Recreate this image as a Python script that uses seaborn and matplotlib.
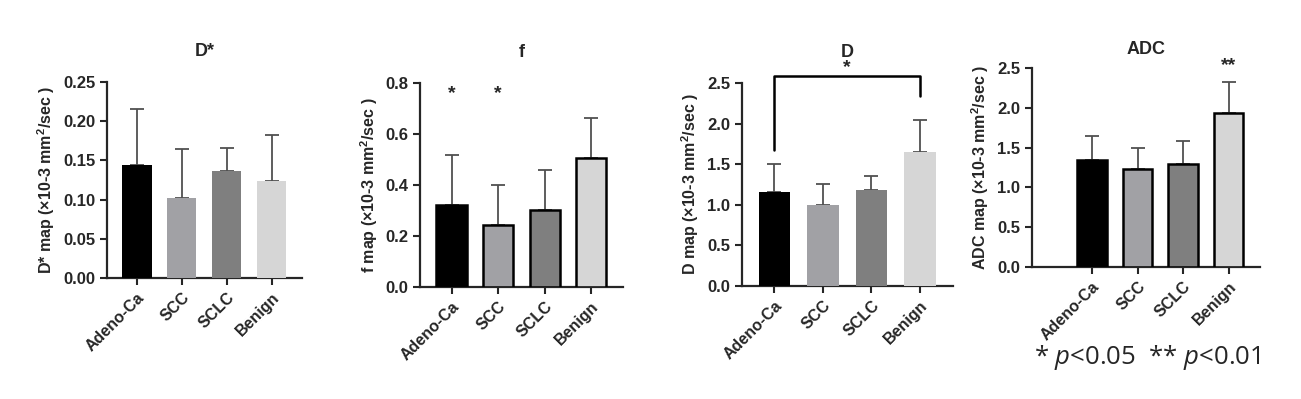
import numpy as np
import pandas as pd
import matplotlib.pyplot as plt
import seaborn as sns

# Group names and bar colours
groups = ["Adeno-Ca", "SCC", "SCLC", "Benign"]
bar_colors = ["#000000", "#a1a1a5", "#7f7f7f", "#d6d6d6"]

# Means and SD for each parameter
dstar_mean = [0.144, 0.102, 0.136, 0.124]
dstar_sd = [0.072, 0.062, 0.030, 0.058]
f_mean = [0.320, 0.242, 0.303, 0.505]
f_sd = [0.197, 0.158, 0.157, 0.160]
d_mean = [1.16, 1.00, 1.18, 1.65]
d_sd = [0.34, 0.26, 0.18, 0.40]
adc_mean = [1.34, 1.23, 1.30, 1.93]
adc_sd = [0.31, 0.27, 0.28, 0.39]

sns.set_style("ticks")
plt.rcParams["font.family"] = ["Liberation Sans", "DejaVu Sans"]
plt.rcParams["font.weight"] = "bold"
plt.rcParams["mathtext.fontset"] = "custom"
plt.rcParams["mathtext.rm"] = "Open Sans:normal"
plt.rcParams["mathtext.it"] = "Open Sans:italic:normal"
plt.rcParams["mathtext.bf"] = "Liberation Sans:bold"

fig = plt.figure(figsize=(13.01, 3.99), dpi=100)

# name, means, sds, ylim top, yticks, tick format, bar edges, axes rect, xlim left, title pad
panels = [
    ("D*", dstar_mean, dstar_sd, 0.25, np.arange(0, 0.26, 0.05), "{:.2f}", False,
     [0.0822, 0.3033, 0.150, 0.491], -0.67, 19),
    ("f", f_mean, f_sd, 0.8, np.arange(0, 0.81, 0.2), "{:.1f}", True,
     [0.3228, 0.2807, 0.156, 0.511], -0.68, 19),
    ("D", d_mean, d_sd, 2.5, np.arange(0, 2.51, 0.5), "{:.1f}", False,
     [0.5703, 0.2830, 0.162, 0.509], -0.67, 19),
    ("ADC", adc_mean, adc_sd, 2.5, np.arange(0, 2.51, 0.5), "{:.1f}", True,
     [0.7932, 0.3308, 0.175, 0.4988], -1.32, 10),
]

axes = []
for name, means, sds, ytop, yticks, fmt, edged, rect, xleft, pad in panels:
    ax = fig.add_axes(rect)
    df = pd.DataFrame({"group": groups, "value": means})
    sns.barplot(data=df, x="group", y="value", hue="group", palette=bar_colors,
                legend=False, errorbar=None, width=0.65, ax=ax,
                edgecolor="black" if edged else "none",
                linewidth=1.8 if edged else 0, zorder=3)
    pos = np.arange(len(groups))
    ax.errorbar(pos, means, yerr=[np.zeros(len(sds)), sds], fmt="none",
                ecolor="#505050", elinewidth=1.3, capsize=5, capthick=1.3, zorder=2)
    ax.set_ylim(0, ytop)
    ax.set_xlim(xleft, len(groups) - 1 + 0.68)
    ax.set_yticks(yticks)
    ax.set_yticklabels([fmt.format(v) for v in yticks], fontsize=12, fontweight="bold")
    ax.set_xticks(pos)
    ax.set_xticklabels(groups, rotation=45, ha="right", rotation_mode="anchor",
                       fontsize=11.5, fontweight="bold")
    ax.set_xlabel("")
    ax.set_ylabel(name + r" map (×10-3 mm$^{\mathbf{2}}$/sec )", fontsize=11.5,
                  fontweight="bold")
    ax.set_title(name, fontsize=13, fontweight="bold", pad=pad)
    sns.despine(ax=ax)
    for sp in ["left", "bottom"]:
        ax.spines[sp].set_linewidth(1.6)
    ax.tick_params(axis="both", width=1.5, length=5)
    axes.append(ax)

# significance marks
axes[1].text(0, 0.74, "*", ha="center", fontsize=14, fontweight="bold")
axes[1].text(1, 0.74, "*", ha="center", fontsize=14, fontweight="bold")

axes[2].plot([0, 0, 3, 3], [1.67, 2.58, 2.58, 2.34], color="black", lw=1.8,
             clip_on=False)
axes[2].text(1.5, 2.64, "*", ha="center", fontsize=14, fontweight="bold")

axes[3].text(3, 2.48, "**", ha="center", fontsize=14, fontweight="bold")

fig.text(0.795, 0.103, r"* $p$<0.05  ** $p$<0.01", fontsize=18.5,
         family="Open Sans", fontweight="normal", va="center")

fig.savefig("out.png", dpi=100)
